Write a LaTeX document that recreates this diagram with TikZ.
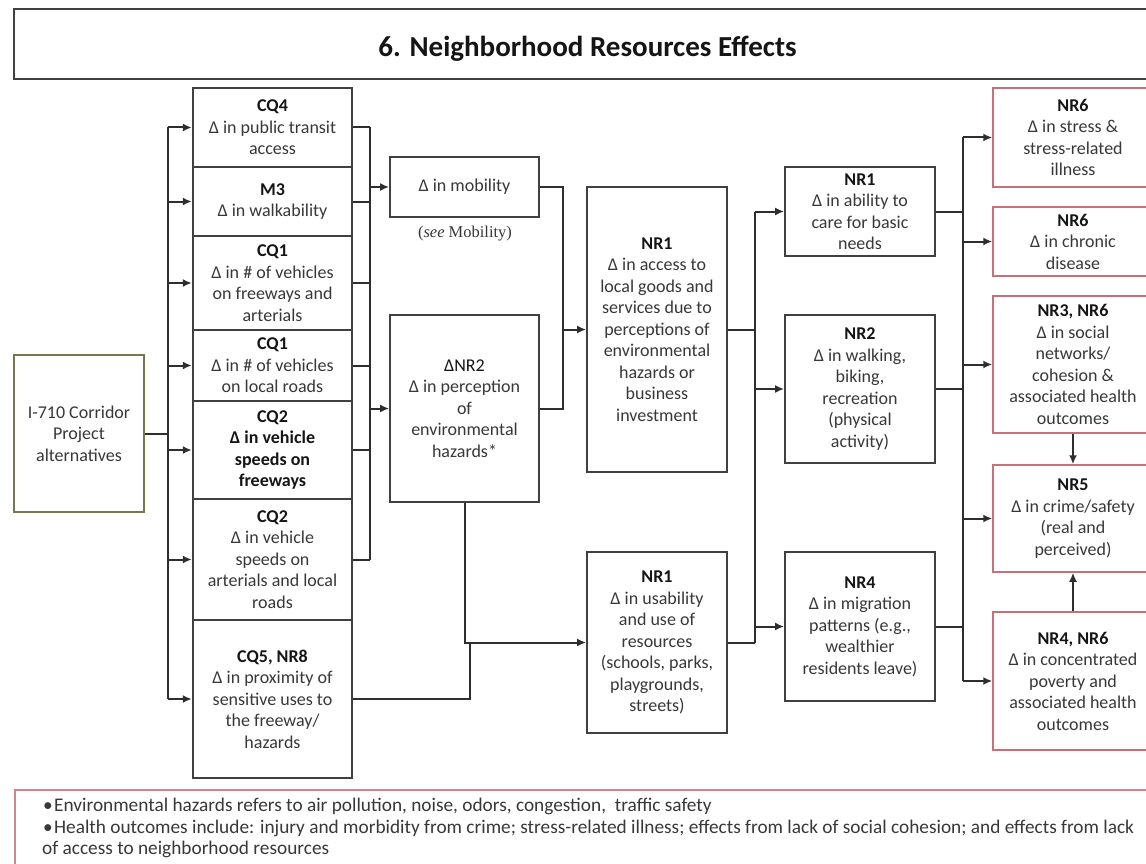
\documentclass[tikz,border=0pt]{standalone}
\usepackage{fontspec}
\setmainfont{Carlito}
\newfontfamily\tnr{Liberation Serif}
\usetikzlibrary{arrows.meta}
\definecolor{ln}{HTML}{2E2E2E}
\definecolor{bx}{HTML}{404040}
\definecolor{rd}{HTML}{C8707A}
\definecolor{ol}{HTML}{77774F}
\definecolor{tx}{HTML}{383838}
\definecolor{hd}{HTML}{151515}
\newcommand\hd[1]{\textcolor{hd}{\textbf{#1}}}
\begin{document}
\begin{tikzpicture}[x=1pt,y=-1pt,
  box/.style={draw=bx,line width=1.8pt,rectangle,inner sep=0pt,align=center,text=tx,
              font=\fontsize{18}{21.5}\selectfont},
  lbox/.style={box,line width=2.4pt,minimum width=159pt},
  mbox/.style={box,minimum width=149pt},
  cbox/.style={box,minimum width=140pt},
  nbox/.style={box,minimum width=150pt},
  rbox/.style={box,draw=rd,line width=1.5pt,minimum width=160pt},
  con/.style={draw=ln,line width=2pt},
  arr/.style={con,-{Latex[length=9pt,width=8pt]}},
]
\useasboundingbox[fill=white] (0,0) rectangle (1146,864);

% title
\node[draw=bx,line width=1.8pt,minimum width=1146pt,minimum height=70pt,inner sep=0pt] (titlebox) at (587,44) {};
\node[font=\fontsize{29}{34}\selectfont\bfseries,text=hd,anchor=base] (title) at (587.5,57) {6. Neighborhood Resources Effects};

% source
\node[box,draw=ol,line width=1.8pt,minimum width=130pt,minimum height=157pt] (i710) at (79,433.5)
  {I-710 Corridor\\Project\\alternatives};

% left column
\node[lbox,minimum height=79pt]  (cq4)  at (272.5,127.5) {\hd{CQ4}\\Δ in public transit\\access};
\node[lbox,minimum height=69pt]  (m3)   at (272.5,201.5) {\hd{M3}\\Δ in walkability};
\node[lbox,minimum height=94pt]  (cq1a) at (272.5,283)   {\hd{CQ1}\\Δ in \# of vehicles\\on freeways and\\arterials};
\node[lbox,minimum height=71pt]  (cq1b) at (272.5,365.5) {\hd{CQ1}\\Δ in \# of vehicles\\on local roads};
\node[lbox,minimum height=98pt,text=hd,font=\fontsize{18}{21.5}\selectfont\bfseries]  (cq2a) at (272.5,450)
  {CQ2\\Δ in vehicle\\speeds on\\freeways};
\node[lbox,minimum height=121pt] (cq2b) at (272.5,559.5) {\hd{CQ2}\\Δ in vehicle\\speeds on\\arterials and local\\roads};
\node[lbox,minimum height=158pt] (cq5)  at (272.5,699)   {\hd{CQ5, NR8}\\Δ in proximity of\\sensitive uses to\\the freeway/\\hazards};

% second column
\node[mbox,minimum height=60pt]  (mob)  at (464.5,187)   {Δ in mobility};
\node[font=\tnr\fontsize{16.5}{20}\selectfont,text=tx] (seemob) at (465,234) {(\textit{see} Mobility)};
\node[mbox,minimum height=187pt] (nr2p) at (464.5,408.5) {\textcolor{hd}{ΔNR2}\\Δ in perception\\of\\environmental\\hazards*};

% third column
\node[cbox,minimum height=285pt] (nr1a) at (657,329.5) {\hd{NR1}\\Δ in access to\\local goods and\\services due to\\perceptions of\\environmental\\hazards or\\business\\investment};
\node[cbox,minimum height=181pt] (nr1b) at (657,642.5) {\hd{NR1}\\Δ in usability\\and use of\\resources\\(schools, parks,\\playgrounds,\\streets)};

% fourth column
\node[nbox,minimum height=89pt]  (nr1c) at (860,211.5) {\hd{NR1}\\Δ in ability to\\care for basic\\needs};
\node[nbox,minimum height=148pt] (nr2)  at (860,389)   {\hd{NR2}\\Δ in walking,\\biking,\\recreation\\(physical\\activity)};
\node[nbox,minimum height=149pt] (nr4)  at (860,626.5) {\hd{NR4}\\Δ in migration\\patterns (e.g.,\\wealthier\\residents leave)};

% outcomes
\node[rbox,minimum height=99pt]  (nr6a) at (1073,137.5) {\hd{NR6}\\Δ in stress \&\\stress-related\\illness};
\node[rbox,minimum height=69pt]  (nr6b) at (1073,241.5) {\hd{NR6}\\Δ in chronic\\disease};
\node[rbox,minimum height=137pt] (nr3)  at (1073,364.5) {\hd{NR3, NR6}\\Δ in social\\networks/\\cohesion \&\\associated health\\outcomes};
\node[rbox,minimum height=107pt] (nr5)  at (1073,518.5) {\hd{NR5}\\Δ in crime/safety\\(real and\\perceived)};
\node[rbox,minimum height=138pt] (nr46) at (1073,681)   {\hd{NR4, NR6}\\Δ in concentrated\\poverty and\\associated health\\outcomes};

% notes
\node[draw=rd!85,line width=1.5pt,minimum width=1146pt,minimum height=90pt,inner sep=0pt,anchor=north west] (notebox) at (14,789) {};
\node[anchor=north west,align=left,inner sep=0pt,text=tx,font=\fontsize{19.3}{21.5}\selectfont] (notetxt) at (42,798)
  {\hspace*{1pt}\makebox[11pt][l]{\textbullet}Environmental hazards refers to air pollution, noise, odors, congestion,\ \ traffic safety\\
   \hspace*{1pt}\makebox[11pt][l]{\textbullet}Health outcomes include: injury and morbidity from crime; stress-related illness; effects from lack of social cohesion; and effects from lack\\
   of access to neighborhood resources};

% connectors
\coordinate (b1) at (168,0);
\coordinate (b2) at (370,0);
\coordinate (b3) at (563,0);
\coordinate (j5) at (470,0);
\coordinate (b4) at (755,0);
\coordinate (b5) at (963,0);

\draw[con] (i710.east) -- (b1 |- i710.east);
\draw[con] (b1 |- cq4.west) -- (b1 |- cq5.west);
\foreach \n in {cq4,m3,cq1a,cq1b,cq2a,cq2b,cq5} \draw[arr] (b1 |- \n.west) -- (\n.west);

\foreach \n in {cq4,m3,cq1a,cq1b,cq2a,cq2b} \draw[con] (\n.east) -- (b2 |- \n.east);
\draw[con] (b2 |- cq4.east) -- (b2 |- cq2b.east);
\draw[arr] (b2 |- mob.west) -- (mob.west);
\draw[arr] (b2 |- nr2p.west) -- (nr2p.west);

\draw[con] (mob.east) -- (b3 |- mob.east) -- (b3 |- nr2p.east) -- (nr2p.east);
\draw[arr] (b3 |- nr1a.west) -- (nr1a.west);

\draw[arr] (nr2p.south) |- (nr1b.west);
\draw[con] (cq5.east) -| (j5 |- nr1b.west);

\draw[con] (nr1a.east) -- (b4 |- nr1a.east);
\draw[con] (nr1b.east) -- (b4 |- nr1b.east);
\draw[con] (b4 |- nr1c.west) -- (b4 |- nr1b.east);
\foreach \n in {nr1c,nr2,nr4} \draw[arr] (b4 |- \n.west) -- (\n.west);

\foreach \n in {nr1c,nr2,nr4} \draw[con] (\n.east) -- (b5 |- \n.east);
\draw[con] (b5 |- nr6a.west) -- (b5 |- nr46.west);
\foreach \n in {nr6a,nr6b,nr3,nr5,nr46} \draw[arr] (b5 |- \n.west) -- (\n.west);

\draw[arr] (nr3.south) -- (nr5.north);
\draw[arr] (nr46.north) -- (nr5.south);
\end{tikzpicture}
\end{document}
